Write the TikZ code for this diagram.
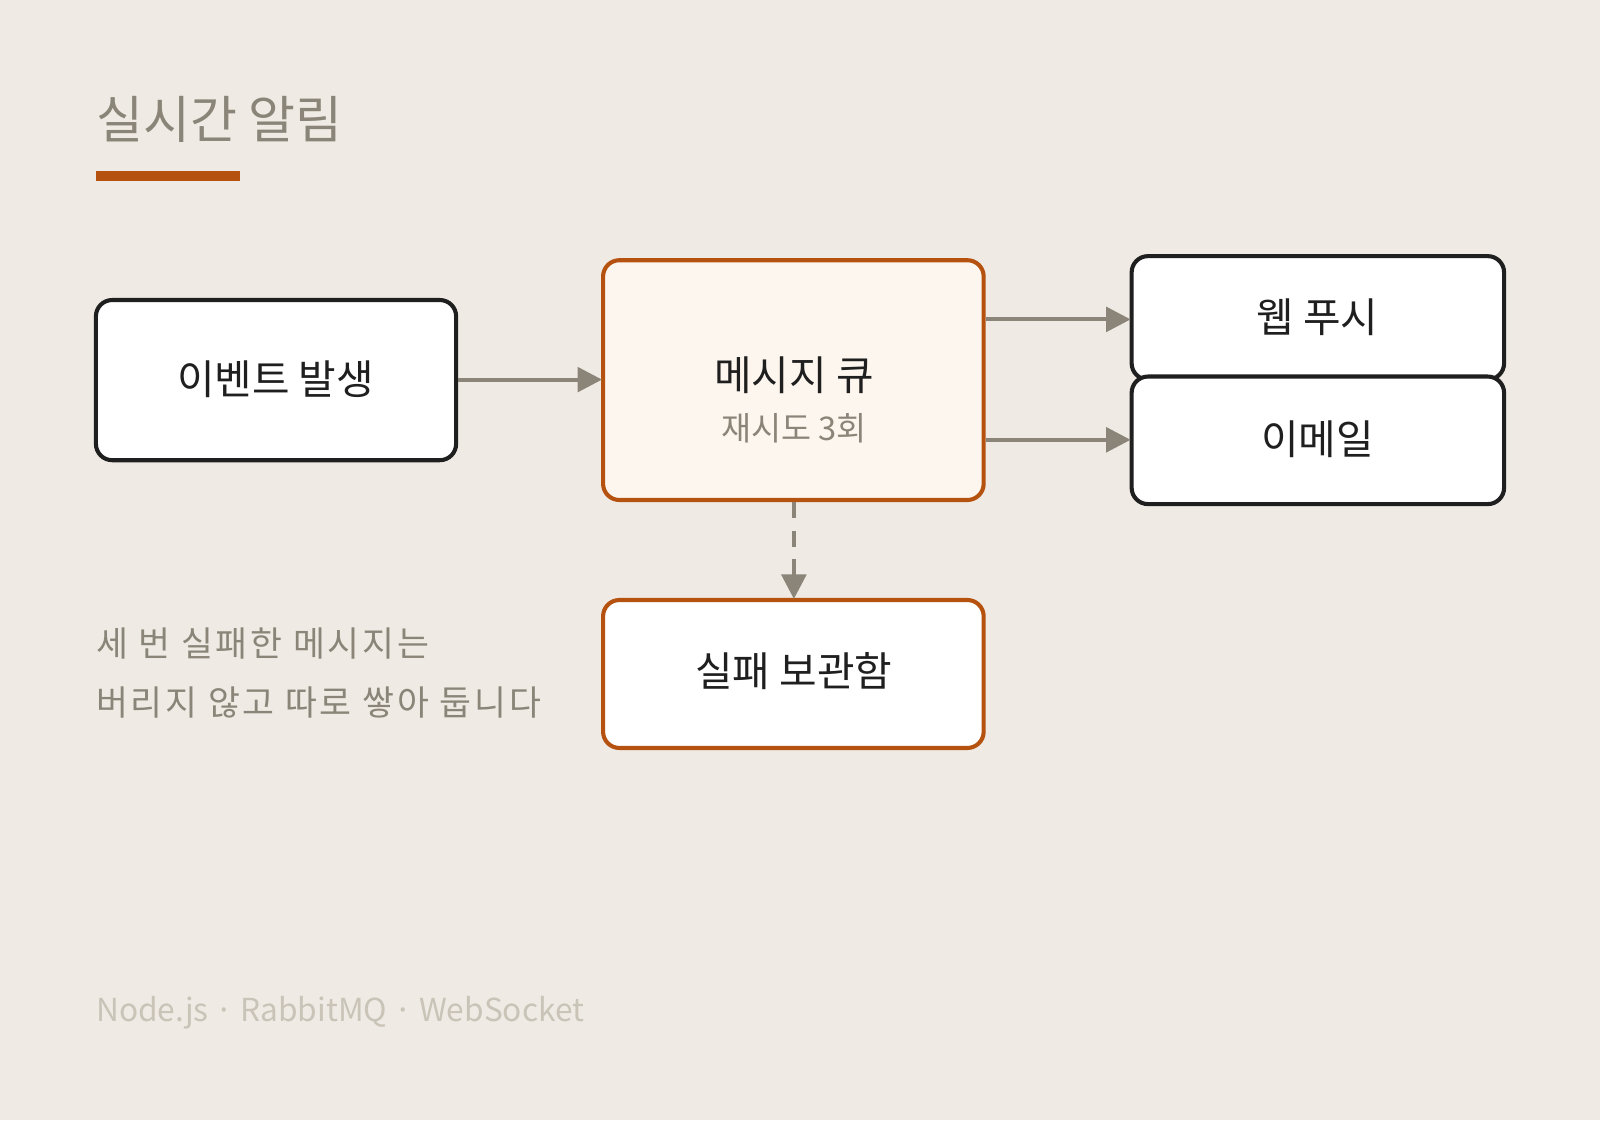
\documentclass[tikz,border=0pt]{standalone}
\usepackage{fontspec}
\setmainfont{Noto Sans CJK KR}
\usetikzlibrary{arrows.meta}
\definecolor{bg}{HTML}{EFEBE4}
\definecolor{org}{HTML}{B5520F}
\definecolor{gr}{HTML}{8A8578}
\definecolor{lg}{HTML}{C9C3B8}
\definecolor{qf}{HTML}{FDF6EE}
\begin{document}
\begin{tikzpicture}[x=0.5pt,y=-0.5pt,
  box/.style={draw=black!88,line width=2pt,rounded corners=8pt,fill=white},
  obox/.style={box,draw=org},
  arr/.style={draw=gr,line width=2pt,-{Triangle[length=12pt,width=12pt]}},
  lbl/.style={font=\fontsize{20}{24}\selectfont,text=black!88}]
\fill[bg] (0,0) rectangle (1568,1098);
\useasboundingbox (0,0) rectangle (1568,1098);
\node[anchor=base west,text=gr,font=\fontsize{25}{30}\selectfont,inner sep=0] (title) at (94,136) {실시간 알림};
\fill[org] (94,168) rectangle (235,177);
\draw[box] (94,294) rectangle (447,451);
\node[lbl] (ev) at (270,372) {이벤트 발생};
\draw[obox,fill=qf] (591,255) rectangle (964,490);
\node[lbl] (mq) at (778,368) {메시지 큐};
\node[text=gr,font=\fontsize{16}{20}\selectfont] (rt) at (778,420) {재시도 3회};
\draw[box] (1109,251) rectangle (1474,372);
\node[lbl] (wp) at (1291,311) {웹 푸시};
\draw[box] (1109,369) rectangle (1474,494);
\node[lbl] (em) at (1291,430) {이메일};
\draw[obox] (591,588) rectangle (964,733);
\node[lbl] (dl) at (778,658) {실패 보관함};
\coordinate (a1) at (449,372); \coordinate (b1) at (590,372);
\coordinate (a2) at (966,313); \coordinate (b2) at (1108,313);
\coordinate (a3) at (966,431); \coordinate (b3) at (1108,431);
\coordinate (a4) at (778,492); \coordinate (b4) at (778,587);
\draw[arr] (a1) -- (b1);
\draw[arr] (a2) -- (b2);
\draw[arr] (a3) -- (b3);
\draw[arr,dash pattern=on 8pt off 6pt] (a4) -- (b4);
\node[anchor=base west,text=gr,font=\fontsize{17}{20}\selectfont\addfontfeature{LetterSpace=8},inner sep=0] (n1) at (94,643) {세 번 실패한 메시지는};
\node[anchor=base west,text=gr,font=\fontsize{17}{20}\selectfont\addfontfeature{LetterSpace=8},inner sep=0] (n2) at (94,701) {버리지 않고 따로 쌓아 둡니다};
\node[anchor=base west,text=lg,font=\fontsize{15.5}{20}\selectfont,inner sep=0] (ft) at (94,1001) {Node.js ·\ RabbitMQ ·\ WebSocket};
\end{tikzpicture}
\end{document}
